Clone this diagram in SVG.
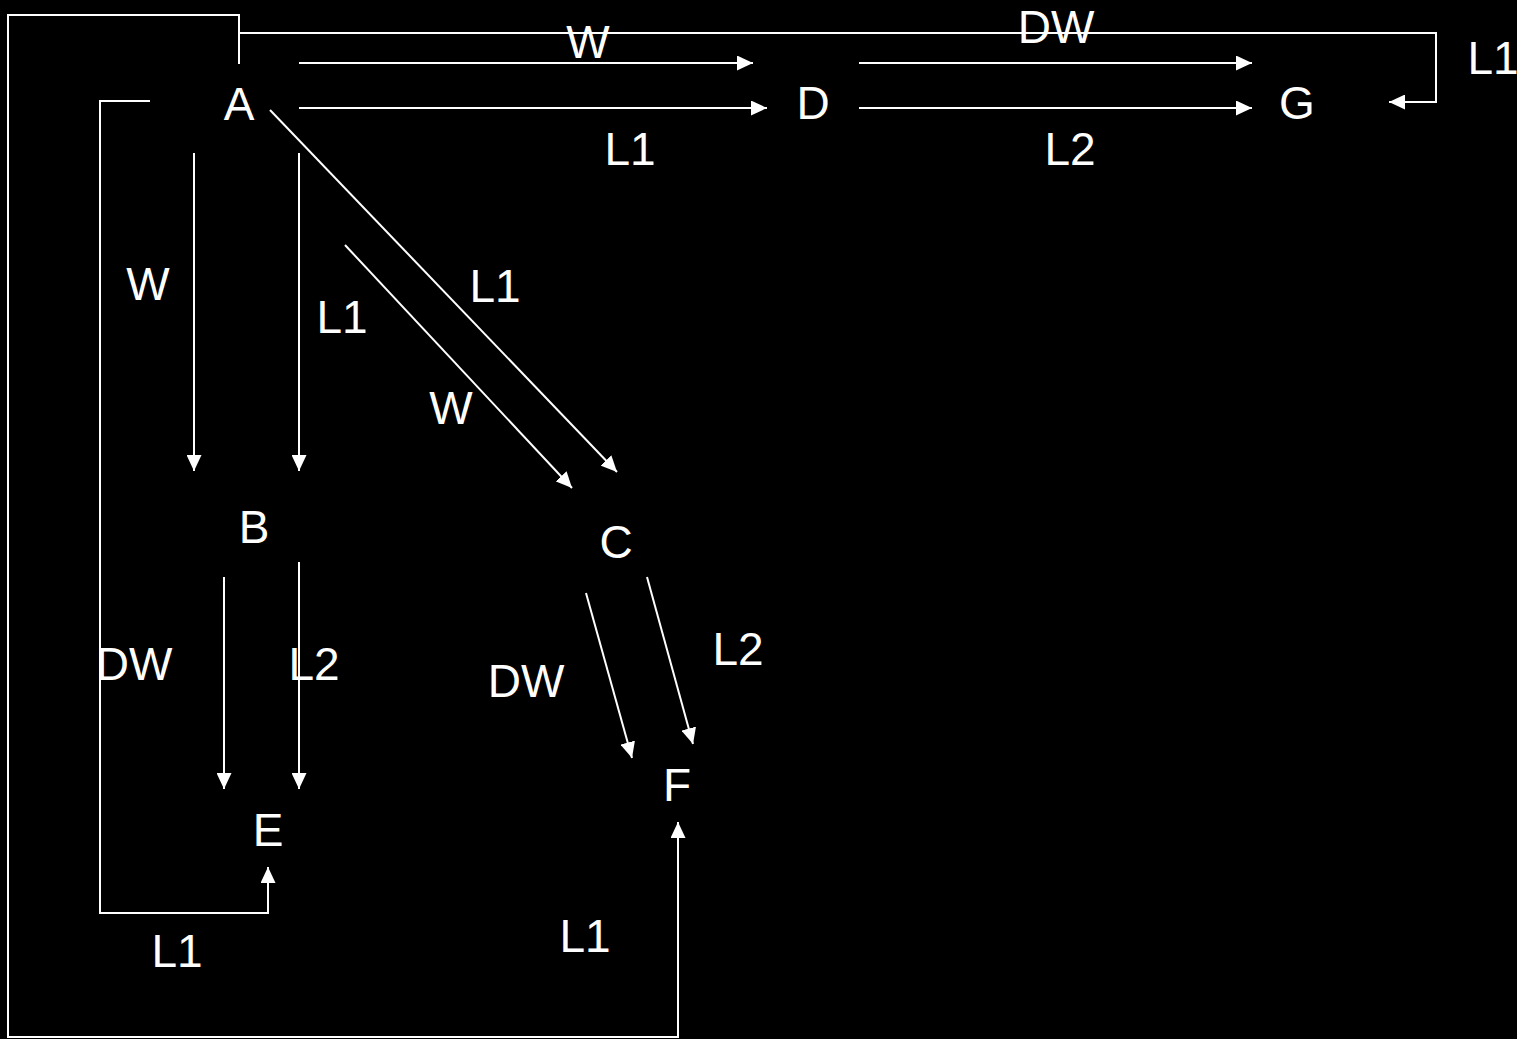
<svg xmlns="http://www.w3.org/2000/svg" width="1517" height="1039" viewBox="0 0 1517 1039">
<defs>
<style>
text{font-family:"Liberation Sans",Arial,sans-serif;font-size:46px;fill:#fff;text-anchor:middle}
.c{fill:none;stroke:#fff;stroke-width:2}
.a{marker-end:url(#ah)}
</style>
<marker id="ah" markerUnits="userSpaceOnUse" markerWidth="16" markerHeight="15" refX="16" refY="7.5" orient="auto" viewBox="0 0 16 15">
<path d="M0,0 L16,7.5 L0,15 z" fill="#fff"/>
</marker>
</defs>
<rect width="1517" height="1039" fill="#000"/>
<g id="connectors">
<path class="c a" d="M299,63 H753"/>
<path class="c a" d="M299,108 H767"/>
<path class="c a" d="M859,63 H1252"/>
<path class="c a" d="M859,108 H1252"/>
<path class="c a" d="M239,64 V33 H1436 V102 H1389"/>
<path class="c a" d="M239,64 V15 H8 V1037 H678 V822"/>
<path class="c a" d="M150,101 H100 V913 H268 V867"/>
<path class="c a" d="M194,153 V471"/>
<path class="c a" d="M299,153 V471"/>
<path class="c a" d="M270,110 L617,472"/>
<path class="c a" d="M345,245 L572,488"/>
<path class="c a" d="M224,577 V789"/>
<path class="c a" d="M299,562 V789"/>
<path class="c a" d="M586,593 L632,758"/>
<path class="c a" d="M647,577 L693,744"/>
</g>
<g id="labels">
<text x="588" y="58">W</text>
<text x="1056" y="43">DW</text>
<text x="630" y="165">L1</text>
<text x="1070" y="165">L2</text>
<text x="1493" y="74">L1</text>
<text x="148" y="300">W</text>
<text x="342" y="333">L1</text>
<text x="495" y="302">L1</text>
<text x="451" y="424">W</text>
<text x="134" y="680">DW</text>
<text x="314" y="680">L2</text>
<text x="526" y="697">DW</text>
<text x="738" y="665">L2</text>
<text x="177" y="967">L1</text>
<text x="585" y="952">L1</text>
</g>
<g id="node-A"><text x="239" y="120">A</text></g>
<g id="node-B"><text x="254" y="543">B</text></g>
<g id="node-C"><text x="616" y="558">C</text></g>
<g id="node-D"><text x="813" y="119">D</text></g>
<g id="node-E"><text x="268" y="846">E</text></g>
<g id="node-F"><text x="677" y="801">F</text></g>
<g id="node-G"><text x="1297" y="119">G</text></g>
</svg>
